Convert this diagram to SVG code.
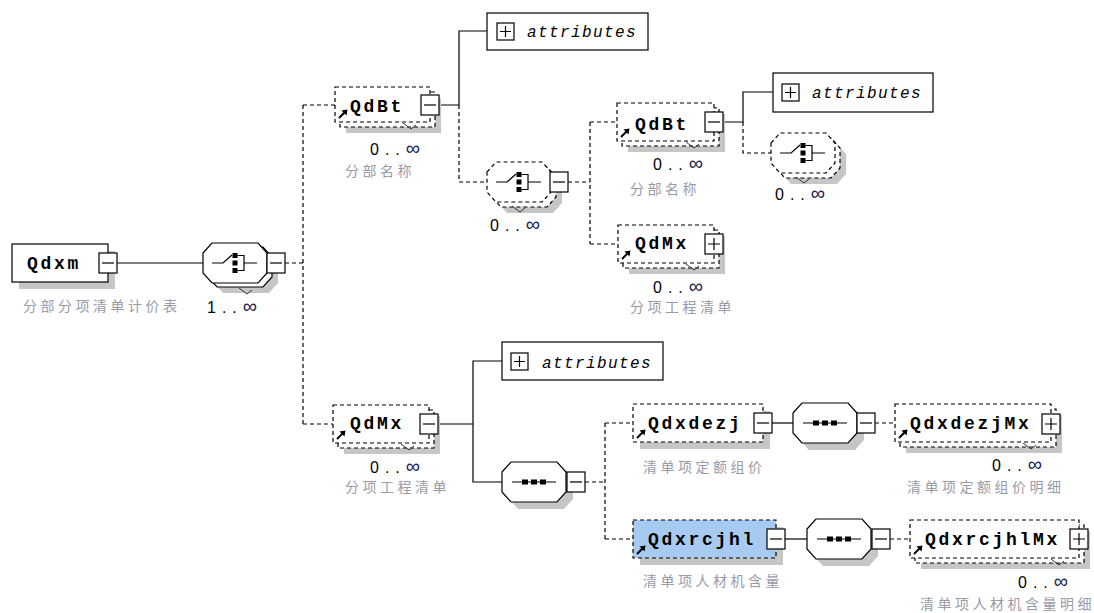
<svg xmlns="http://www.w3.org/2000/svg" width="1094" height="613" viewBox="0 0 1094 613">
<style>
.sh{fill:#c6c6c6;stroke:none}
.box{fill:#fff;stroke:#000;stroke-width:1.2}
.dbox{fill:#fff;stroke:#000;stroke-width:1.2;stroke-dasharray:4 3}
.sel{fill:#a6caf0}
.btn{fill:#fff;stroke:#000;stroke-width:1.2}
.ln{fill:none;stroke:#000;stroke-width:1.2}
.dl{fill:none;stroke:#000;stroke-width:1.2;stroke-dasharray:4 3}
.nt{fill:none;stroke:#333;stroke-width:1}
.nm{font-family:"Liberation Mono",monospace;font-weight:bold;font-size:18px;letter-spacing:2.7px;fill:#000}
.at{font-family:"Liberation Mono",monospace;font-style:italic;font-size:16px;letter-spacing:1.4px;fill:#000}
.oc{font-family:"Liberation Sans",sans-serif;font-size:16px;letter-spacing:6px;fill:#000}
.inf{font-size:20px;fill:#1a2250;letter-spacing:0}
.cn{font-family:"Noto Sans CJK SC",sans-serif;font-size:14px;letter-spacing:3.5px;fill:#9a9aa8}
</style>
<defs>
<path id="oct" d="M0,10 L9,0 L55,0 L64,10 L64,30 L55,40 L9,40 L0,30 Z"/>
<g id="minus"><rect x="0" y="0" width="18" height="20" class="btn"/><path d="M3,10 H15" class="ln"/></g>
<g id="plus"><rect x="0" y="0" width="18" height="20" class="btn"/><path d="M3,10 H15 M9,4 V16" class="ln"/></g>
<g id="aplus"><rect x="0" y="0" width="17" height="17" class="btn"/><path d="M3,8.5 H14 M8.5,3 V14" class="ln"/></g>
<g id="choice">
<path d="M-23,0 H-12 L-3,-8" class="ln"/>
<rect x="-2.5" y="-10" width="5" height="5"/><rect x="-2.5" y="-2.5" width="5" height="5"/><rect x="-2.5" y="5" width="5" height="5"/>
<path d="M2.5,-7.5 H9 V7.5 H2.5 M9,0 H22" class="ln"/>
</g>
<g id="seq">
<path d="M-22,0 H22" class="ln"/>
<rect x="-12" y="-2.5" width="6" height="5"/><rect x="-3" y="-2.5" width="6" height="5"/><rect x="6" y="-2.5" width="6" height="5"/>
</g>
<g id="ref"><path d="M0,0 L6,-6" stroke="#000" stroke-width="2"/><path d="M8.5,-8.5 L2.5,-7.5 L7.5,-2.5 Z" fill="#000"/></g>
<path id="notch" d="M0,0 L8,6 L13,2" class="nt"/>
</defs>

<g id="connectors">
<path d="M117,263 H203" class="ln"/>
<path d="M285,263 H303 M303,105 V424 M303,105 H335 M303,424 H333" class="dl"/>
<path d="M439,105 H459 V31 H487" class="ln"/>
<path d="M459,105 V182 H487" class="dl"/>
<path d="M568,182 H590 M590,122 V244 M590,122 H617 M590,244 H618" class="dl"/>
<path d="M723,122 H743 V92 H773" class="ln"/>
<path d="M743,122 V153 H771" class="dl"/>
<path d="M438,424 H473 V361 H502 M473,424 V482 H502" class="ln"/>
<path d="M585,482 H605 M605,423 V539 M605,423 H633 M605,539 H633" class="dl"/>
<path d="M772,423 H793" class="ln"/>
<path d="M875,423 H895" class="dl"/>
<path d="M785,539 H807" class="ln"/>
<path d="M890,539 H910" class="dl"/>
</g>

<g id="Qdxm">
<rect x="19" y="251" width="96" height="38" class="sh"/>
<rect x="12" y="244" width="96" height="38" class="box"/>
<text x="27" y="269" class="nm">Qdxm</text>
<use href="#minus" x="99" y="253"/>
<text x="23" y="311" class="cn">分部分项清单计价表</text>
</g>

<g id="choice1">
<use href="#oct" x="214" y="253" class="sh"/>
<use href="#oct" x="208" y="247" class="box"/>
<use href="#oct" x="203" y="243" class="box"/>
<use href="#choice" x="235" y="263"/>
<use href="#minus" x="267" y="253"/>
<use href="#notch" x="239" y="288"/>
<text x="207" y="313" class="oc">1..<tspan class="inf">∞</tspan></text>
</g>

<g id="QdBt1">
<rect x="346" y="98" width="95" height="35" class="sh"/>
<rect x="340" y="92" width="95" height="35" class="dbox"/>
<rect x="335" y="87" width="95" height="35" class="dbox"/>
<use href="#notch" x="403" y="123"/>
<text x="350" y="112" class="nm">QdBt</text>
<use href="#ref" x="339" y="118"/>
<use href="#minus" x="421" y="95"/>
<text x="370" y="155" class="oc">0..<tspan class="inf">∞</tspan></text>
<text x="345" y="176" class="cn">分部名称</text>
</g>

<g id="attributes1">
<rect x="487" y="13" width="161" height="37" class="box"/>
<use href="#aplus" x="497" y="23"/>
<text x="527" y="37" class="at">attributes</text>
</g>

<g id="choice2">
<use href="#oct" x="498" y="173" class="sh"/>
<use href="#oct" x="492" y="167" class="dbox"/>
<use href="#oct" x="487" y="162" class="dbox"/>
<use href="#choice" x="519" y="182"/>
<use href="#minus" x="550" y="172"/>
<use href="#notch" x="512" y="206"/>
<text x="490" y="231" class="oc">0..<tspan class="inf">∞</tspan></text>
</g>

<g id="QdBt2">
<rect x="628" y="114" width="97" height="38" class="sh"/>
<rect x="622" y="108" width="97" height="38" class="dbox"/>
<rect x="617" y="103" width="97" height="38" class="dbox"/>
<use href="#notch" x="686" y="142"/>
<text x="635" y="130" class="nm">QdBt</text>
<use href="#ref" x="621" y="137"/>
<use href="#minus" x="705" y="112"/>
<text x="653" y="170" class="oc">0..<tspan class="inf">∞</tspan></text>
<text x="630" y="194" class="cn">分部名称</text>
</g>

<g id="attributes2">
<rect x="773" y="73" width="160" height="39" class="box"/>
<use href="#aplus" x="782" y="84"/>
<text x="812" y="98" class="at">attributes</text>
</g>

<g id="choice3">
<use href="#oct" x="782" y="144" class="sh"/>
<use href="#oct" x="776" y="138" class="dbox"/>
<use href="#oct" x="771" y="133" class="dbox"/>
<use href="#choice" x="803" y="153"/>
<use href="#notch" x="796" y="177"/>
<text x="775" y="200" class="oc">0..<tspan class="inf">∞</tspan></text>
</g>

<g id="QdMx2">
<rect x="629" y="236" width="96" height="38" class="sh"/>
<rect x="623" y="230" width="96" height="38" class="dbox"/>
<rect x="618" y="225" width="96" height="38" class="dbox"/>
<use href="#notch" x="686" y="264"/>
<text x="635" y="249" class="nm">QdMx</text>
<use href="#ref" x="622" y="259"/>
<use href="#plus" x="705" y="234"/>
<text x="653" y="293" class="oc">0..<tspan class="inf">∞</tspan></text>
<text x="630" y="312" class="cn">分项工程清单</text>
</g>

<g id="QdMx1">
<rect x="344" y="416" width="96" height="38" class="sh"/>
<rect x="338" y="410" width="96" height="38" class="dbox"/>
<rect x="333" y="405" width="96" height="38" class="dbox"/>
<use href="#notch" x="401" y="444"/>
<text x="350" y="429" class="nm">QdMx</text>
<use href="#ref" x="337" y="439"/>
<use href="#minus" x="420" y="414"/>
<text x="370" y="473" class="oc">0..<tspan class="inf">∞</tspan></text>
<text x="345" y="492" class="cn">分项工程清单</text>
</g>

<g id="attributes3">
<rect x="502" y="342" width="161" height="38" class="box"/>
<use href="#aplus" x="511" y="353"/>
<text x="542" y="368" class="at">attributes</text>
</g>

<g id="sequence1">
<use href="#oct" x="509" y="469" class="sh"/>
<use href="#oct" x="502" y="462" class="box"/>
<use href="#seq" x="534" y="482"/>
<use href="#minus" x="567" y="472"/>
</g>

<g id="Qdxdezj">
<rect x="640" y="411" width="130" height="38" class="sh"/>
<rect x="633" y="404" width="130" height="38" class="dbox"/>
<text x="648" y="429" class="nm">Qdxdezj</text>
<use href="#ref" x="637" y="438"/>
<use href="#minus" x="754" y="413"/>
<text x="643" y="472" class="cn">清单项定额组价</text>
</g>

<g id="sequence2">
<use href="#oct" x="800" y="410" class="sh"/>
<use href="#oct" x="793" y="403" class="box"/>
<use href="#seq" x="825" y="423"/>
<use href="#minus" x="857" y="413"/>
</g>

<g id="QdxdezjMx">
<rect x="906" y="415" width="156" height="38" class="sh"/>
<rect x="900" y="409" width="156" height="38" class="dbox"/>
<rect x="895" y="404" width="156" height="38" class="dbox"/>
<use href="#notch" x="1023" y="443"/>
<text x="910" y="429" class="nm">QdxdezjMx</text>
<use href="#ref" x="899" y="438"/>
<use href="#plus" x="1042" y="414"/>
<text x="992" y="471" class="oc">0..<tspan class="inf">∞</tspan></text>
<text x="907" y="492" class="cn">清单项定额组价明细</text>
</g>

<g id="Qdxrcjhl">
<rect x="640" y="527" width="143" height="38" class="sh"/>
<rect x="633" y="520" width="143" height="38" class="dbox sel"/>
<text x="648" y="545" class="nm">Qdxrcjhl</text>
<use href="#ref" x="637" y="554"/>
<use href="#minus" x="767" y="529"/>
<text x="643" y="586" class="cn">清单项人材机含量</text>
</g>

<g id="sequence3">
<use href="#oct" x="814" y="526" class="sh"/>
<use href="#oct" x="807" y="519" class="box"/>
<use href="#seq" x="839" y="539"/>
<use href="#minus" x="872" y="529"/>
</g>

<g id="QdxrcjhlMx">
<rect x="921" y="531" width="169" height="38" class="sh"/>
<rect x="915" y="525" width="169" height="38" class="dbox"/>
<rect x="910" y="520" width="169" height="38" class="dbox"/>
<use href="#notch" x="1051" y="559"/>
<text x="925" y="545" class="nm">QdxrcjhlMx</text>
<use href="#ref" x="914" y="554"/>
<use href="#plus" x="1070" y="529"/>
<text x="1018" y="588" class="oc">0..<tspan class="inf">∞</tspan></text>
<text x="920" y="609" class="cn">清单项人材机含量明细</text>
</g>
</svg>
